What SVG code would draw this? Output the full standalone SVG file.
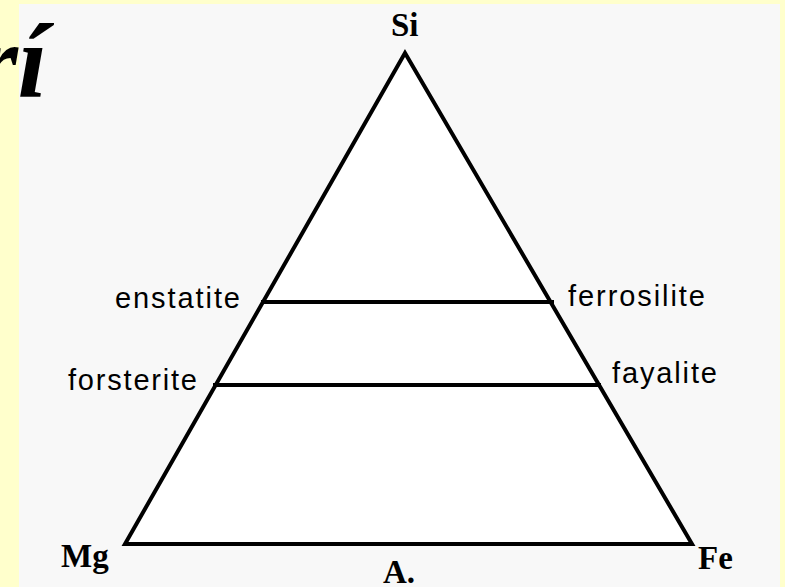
<svg xmlns="http://www.w3.org/2000/svg" width="785" height="587" viewBox="0 0 785 587">
<style>
.ln{stroke:#000;stroke-width:4;fill:none}
.lbl{font-family:"Liberation Sans",Arial,sans-serif;font-size:29px;fill:#000}
.el{font-family:"Liberation Serif","Times New Roman",serif;font-weight:bold;font-size:33px;fill:#000}
</style>
<rect x="0" y="0" width="785" height="587" fill="#ffffcc"/>
<rect x="19" y="4" width="761" height="583" fill="#f8f8f8"/>
<g id="triangle">
<polygon points="405,53 125,544 692,544" fill="#ffffff" stroke="#000" stroke-width="4" stroke-linejoin="miter"/>
</g>
<g id="connectors">
<line class="ln" x1="261" y1="302" x2="554" y2="302"/>
<line class="ln" x1="213" y1="385" x2="601" y2="385"/>
</g>
<g id="node-si"><text class="el" x="391" y="36">Si</text></g>
<g id="node-mg"><text class="el" x="61" y="567">Mg</text></g>
<g id="node-fe"><text class="el" x="698" y="569">Fe</text></g>
<g id="label-a"><text class="el" x="383" y="583">A.</text></g>
<g id="node-enstatite"><text class="lbl" x="115" y="308" textLength="125" lengthAdjust="spacing">enstatite</text></g>
<g id="node-ferrosilite"><text class="lbl" x="568" y="306" textLength="137" lengthAdjust="spacing">ferrosilite</text></g>
<g id="node-forsterite"><text class="lbl" x="68" y="390" textLength="129" lengthAdjust="spacing">forsterite</text></g>
<g id="node-fayalite"><text class="lbl" x="612" y="383" textLength="105" lengthAdjust="spacing">fayalite</text></g>
<text x="47" y="97" text-anchor="end" font-family="Liberation Serif,'Times New Roman',serif" font-style="italic" font-weight="bold" font-size="105" fill="#000">rí</text>
</svg>
